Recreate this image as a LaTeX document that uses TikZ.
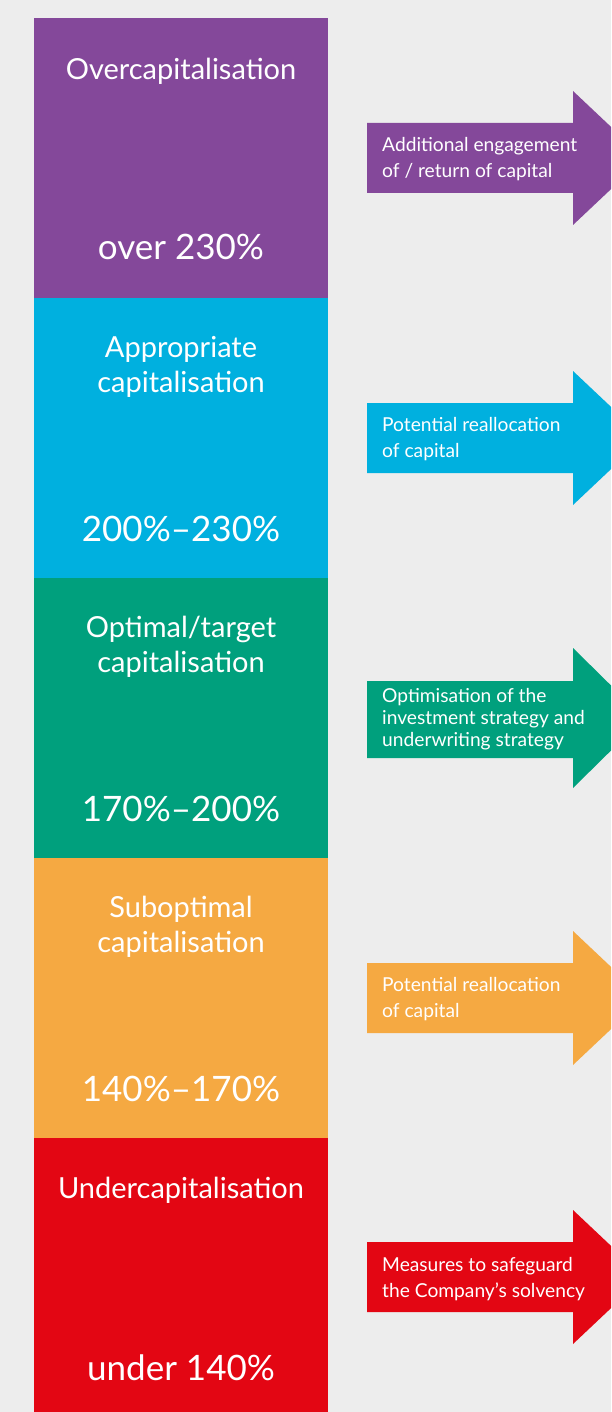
\documentclass[tikz,border=0pt]{standalone}
\usepackage{fontspec}
\setmainfont{Lato}
\usepackage{xcolor}

\definecolor{pagegray}{HTML}{EDEDED}
\definecolor{capover}{HTML}{84489A}
\definecolor{capappr}{HTML}{00B0DF}
\definecolor{capopt}{HTML}{00A07D}
\definecolor{capsub}{HTML}{F5A942}
\definecolor{capunder}{HTML}{E30613}

\tikzset{
  bandtitle/.style={text=white, inner sep=0pt, anchor=base, align=center,
    font=\fontsize{29}{35}\selectfont},
  bandrange/.style={text=white, inner sep=0pt, anchor=base,
    font=\fontsize{35}{40}\selectfont},
  actiontext/.style={text=white, inner sep=0pt, anchor=west, align=left,
    font=\fontsize{19.2}{26}\selectfont},
  actiontight/.style={actiontext, font=\fontsize{19.2}{22}\selectfont},
}

\begin{document}
\begin{tikzpicture}[x=1pt,y=-1pt]
\fill[pagegray] (0,0) rectangle (611,1412);
\useasboundingbox (0,0) rectangle (611,1412);
\clip (0,0) rectangle (611,1412);

% the five bands of the column
\fill[capover]  (34,18)   rectangle (328,298);
\fill[capappr]  (34,298)  rectangle (328,578);
\fill[capopt]   (34,578)  rectangle (328,858);
\fill[capsub]   (34,858)  rectangle (328,1138);
\fill[capunder] (34,1138) rectangle (328,1412);

\node[bandtitle] (overtitle) at (181,80) {Overcapitalisation};
\node[bandrange] (overrange) at (181,260) {over 230\%};
\node[bandtitle, anchor=north] (apprtitle) at (181,336) {Appropriate\\capitalisation};
\node[bandrange] (apprrange) at (181,541) {200\%--230\%};
\node[bandtitle, anchor=north] (opttitle) at (181,616) {Optimal/target\\capitalisation};
\node[bandrange] (optrange) at (181,821) {170\%--200\%};
\node[bandtitle, anchor=north] (subtitle) at (181,896) {Suboptimal\\capitalisation};
\node[bandrange] (subrange) at (181,1101) {140\%--170\%};
\node[bandtitle] (undertitle) at (181,1198) {Undercapitalisation};
\node[bandrange] (underrange) at (181,1380) {under 140\%};

% arrows to the right, one per band
\fill[capover]  (367,123) -- (573,123) -- (573,91) -- (644,158) -- (573,225) -- (573,193) -- (367,193) -- cycle;
\fill[capappr]  (367,403) -- (573,403) -- (573,371) -- (644,438) -- (573,505) -- (573,473) -- (367,473) -- cycle;
\fill[capopt]   (367,681) -- (573,681) -- (573,648) -- (644,718) -- (573,788) -- (573,758) -- (367,758) -- cycle;
\fill[capsub]   (367,963) -- (573,963) -- (573,931) -- (644,998) -- (573,1065) -- (573,1033) -- (367,1033) -- cycle;
\fill[capunder] (367,1242) -- (573,1242) -- (573,1210) -- (644,1277) -- (573,1344) -- (573,1312) -- (367,1312) -- cycle;

\node[actiontext] (overact) at (382,159) {Additional engagement\\of / return of capital};
\node[actiontext] (appract) at (382,439) {Potential reallocation\\of capital};
\node[actiontight] (optact) at (382,719) {Optimisation of the\\investment strategy and\\underwriting strategy};
\node[actiontext] (subact) at (382,999) {Potential reallocation\\of capital};
\node[actiontext] (underact) at (382,1279) {Measures to safeguard\\the Company's solvency};
\end{tikzpicture}
\end{document}
